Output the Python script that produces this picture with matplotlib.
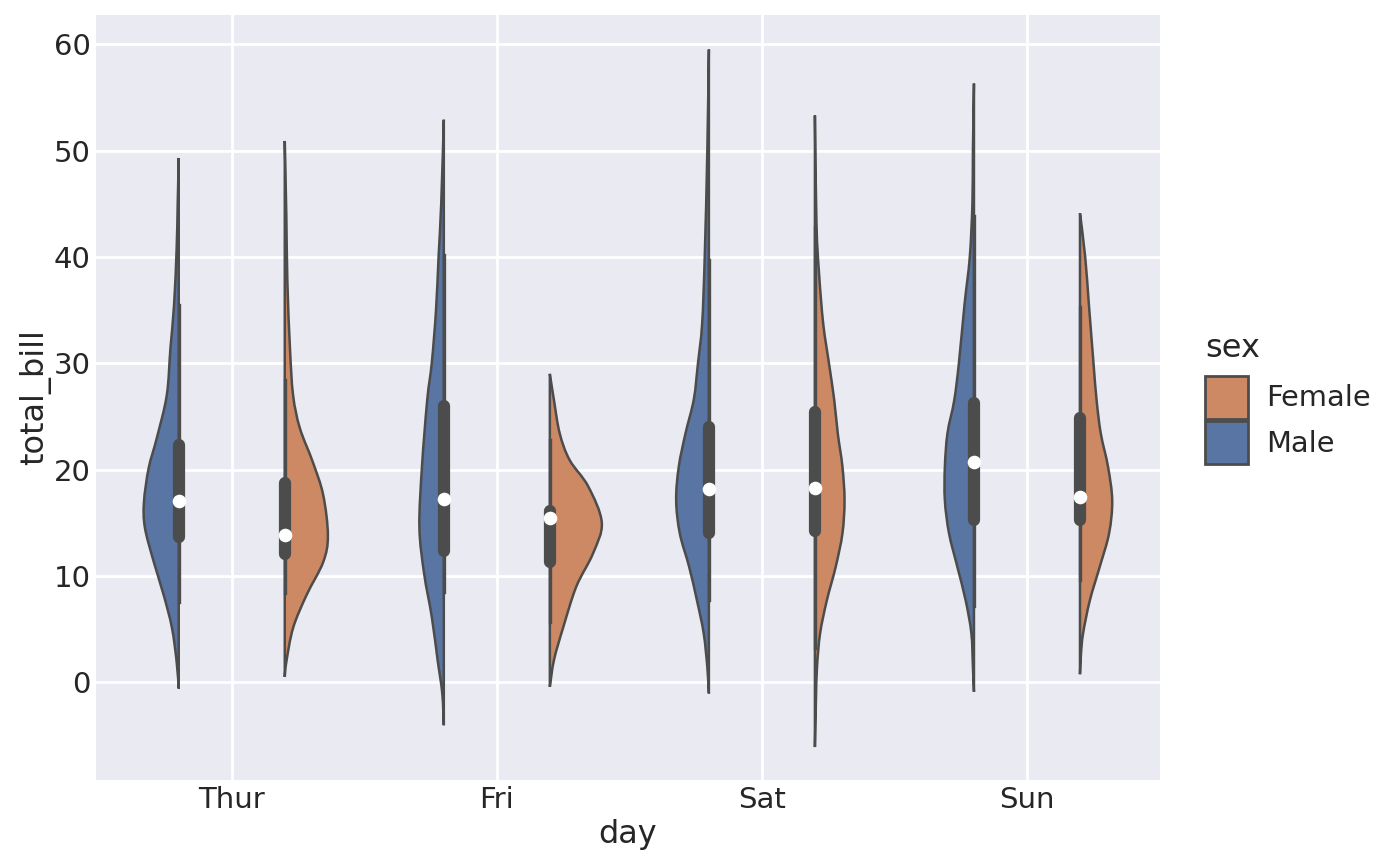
import numpy as np
import matplotlib.pyplot as plt
from matplotlib.path import Path
from matplotlib.patches import PathPatch, Patch

days = ["Thur", "Fri", "Sat", "Sun"]
sexes = ["Male", "Female"]

# violin outlines: y values and relative density (half width)
thur_male_y = [-0.6, 1.9, 5.1, 8.2, 11.3, 14.5, 16.9, 20.1, 23.0, 27.0, 31.4, 35.5, 40.8, 45.0, 49.3]
thur_male_d = [0, .04, .13, .29, .48, .65, .67, .58, .42, .23, .16, .09, .04, .02, 0]
thur_female_y = [0.5, 1.9, 5.1, 8.2, 11.3, 13.8, 17.6, 20.7, 23.9, 27.0, 31.4, 37.7, 43.9, 50.9]
thur_female_d = [0, .03, .16, .42, .74, .83, .74, .54, .29, .16, .10, .05, .03, 0]
fri_male_y = [-4.05, -1.05, 2.1, 6.1, 10.25, 14.6, 20.3, 26.5, 30.1, 35.0, 40.1, 45.0, 52.9]
fri_male_d = [0, .03, .12, .23, .38, .47, .42, .32, .23, .15, .10, .05, 0]
fri_female_y = [-0.44, 2.1, 5.2, 9.0, 12.1, 15.0, 18.4, 20.9, 23.4, 26.5, 29.0]
fri_female_d = [0, .08, .26, .51, .83, 1.0, .74, .38, .19, .08, 0]
sat_male_y = [-1.06, 1.4, 4.6, 7.7, 10.85, 14.0, 17.1, 20.25, 23.4, 26.6, 30.0, 33.7, 40.0, 50.0, 59.5]
sat_male_d = [0, .03, .10, .23, .38, .56, .63, .58, .45, .29, .21, .13, .08, .03, 0]
sat_female_y = [-6.1, -1.7, 1.4, 4.6, 7.7, 10.85, 14.0, 17.1, 20.25, 23.4, 26.6, 30.0, 33.7, 38.4, 43.1, 53.3]
sat_female_d = [0, .02, .04, .10, .23, .40, .53, .57, .53, .44, .37, .27, .16, .08, .03, 0]
sun_male_y = [-0.9, 1.4, 4.6, 7.7, 10.85, 14.0, 17.1, 20.25, 23.4, 26.5, 30.0, 35.6, 40.0, 45.0, 50.0, 56.3]
sun_male_d = [0, .02, .05, .16, .32, .48, .56, .56, .51, .38, .29, .18, .08, .03, .02, 0]
sun_female_y = [0.75, 2.7, 4.6, 7.7, 10.85, 14.0, 17.1, 20.25, 23.4, 26.5, 30.0, 35.6, 40.0, 44.1]
sun_female_d = [0, .02, .06, .19, .38, .56, .62, .54, .40, .32, .26, .17, .10, 0]

# box stats per day: Male / Female  (whisker low, q1, median, q3, whisker high)
male_stats = [[7.5, 13.7, 17.0, 22.3, 35.5],
              [8.5, 12.3, 17.2, 26.0, 40.2],
              [7.7, 14.0, 18.2, 24.0, 39.7],
              [7.2, 15.3, 20.7, 26.3, 43.8]]
female_stats = [[8.35, 12.1, 13.8, 18.7, 28.4],
                [5.7, 11.35, 15.4, 16.1, 22.8],
                [3.2, 14.2, 18.3, 25.4, 42.8],
                [9.6, 15.3, 17.4, 24.8, 35.3]]

male_outlines = [(thur_male_y, thur_male_d), (fri_male_y, fri_male_d),
                 (sat_male_y, sat_male_d), (sun_male_y, sun_male_d)]
female_outlines = [(thur_female_y, thur_female_d), (fri_female_y, fri_female_d),
                   (sat_female_y, sat_female_d), (sun_female_y, sun_female_d)]

colors = {"Male": "#5875a4", "Female": "#cc8963"}
line_color = "#4c4c4c"
text_color = "#262626"
half_width = 0.196

plt.rcParams['font.family'] = ['DejaVu Sans']
plt.rcParams['text.color'] = text_color


def smooth_path(xs, ys, cx):
    # catmull-rom through the read points, as bezier segments
    pts = np.column_stack([xs, ys])
    verts = [pts[0]]
    codes = [Path.MOVETO]
    n = len(pts)
    for i in range(n - 1):
        p0 = pts[max(i - 1, 0)]
        p1 = pts[i]
        p2 = pts[i + 1]
        p3 = pts[min(i + 2, n - 1)]
        c1 = p1 + (p2 - p0) / 6
        c2 = p2 - (p3 - p1) / 6
        verts += [c1, c2, p2]
        codes += [Path.CURVE4] * 3
    # back down the split line
    verts.append([cx, ys[0]])
    codes.append(Path.LINETO)
    verts.append(pts[0])
    codes.append(Path.CLOSEPOLY)
    return Path(verts, codes)


fig = plt.figure(figsize=(7, 4.33), dpi=200)
ax = fig.add_axes([0.0686, 0.0993, 0.76, 0.8834])
ax.set_facecolor("#eaeaf2")
for s in ax.spines.values():
    s.set_visible(False)
ax.grid(True, color="white", linewidth=1.0)
ax.set_axisbelow(True)

for i, day in enumerate(days):
    for sex, outlines, stats, side in [("Male", male_outlines, male_stats, -1),
                                       ("Female", female_outlines, female_stats, 1)]:
        yy, dd = outlines[i]
        cx = i + side * 0.2
        xs = cx + side * np.array(dd) * half_width
        path = smooth_path(xs, np.array(yy), cx)
        ax.add_patch(PathPatch(path, facecolor=colors[sex], edgecolor=line_color,
                               linewidth=0.9, zorder=2))
        wlo, q1, med, q3, whi = stats[i]
        ax.plot([cx, cx], [wlo, whi], color=line_color, linewidth=1.2, zorder=3)
        ax.plot([cx, cx], [q1, q3], color=line_color, linewidth=4.4,
                solid_capstyle="round", zorder=4)
        ax.plot([cx], [med], marker="o", markersize=4.9, color="white",
                markeredgewidth=0, zorder=5)

ax.set_xlim(-0.512, 3.502)
ax.set_ylim(-9.2, 62.75)
ax.set_xticks(range(len(days)))
ax.set_xticklabels(days)
ax.set_yticks([0, 10, 20, 30, 40, 50, 60])
ax.tick_params(length=0, labelsize=10.5, colors=text_color, pad=2)
ax.set_xlabel("day", fontsize=11.5, color=text_color, labelpad=2)
ax.set_ylabel("total_bill", fontsize=11.5, color=text_color, labelpad=1)

handles = [Patch(facecolor=colors["Female"], edgecolor=line_color, linewidth=1.0, label="Female"),
           Patch(facecolor=colors["Male"], edgecolor=line_color, linewidth=1.0, label="Male")]
fig.text(1205 / 1400, 1 - 357 / 866, "sex", fontsize=11.5, color=text_color,
         ha="left", va="baseline")
leg = fig.legend(handles=handles, loc="center left",
                 bbox_to_anchor=(1205 / 1400, 1 - 420 / 866), frameon=False, fontsize=10.4,
                 handlelength=1.5, handleheight=1.9,
                 labelspacing=0.1, handletextpad=0.62, borderpad=0, borderaxespad=0)

fig.savefig("out.png", dpi=200)
